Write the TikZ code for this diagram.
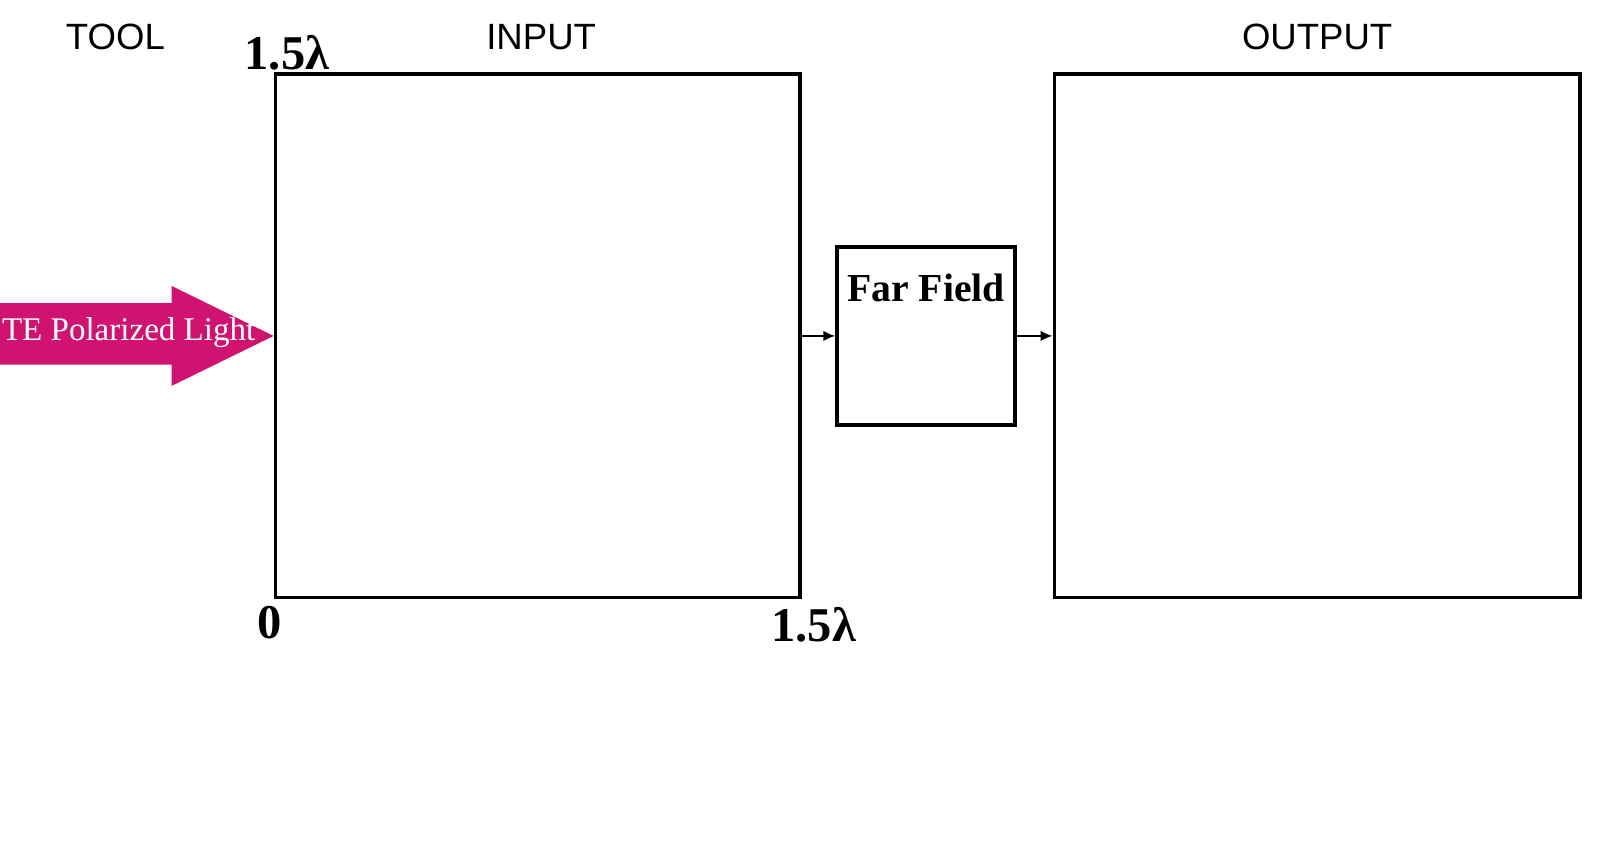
\documentclass[tikz,border=0pt]{standalone}
\usepackage{fontspec}
\setmainfont{Liberation Serif}
\setsansfont{Liberation Sans}
\usetikzlibrary{arrows.meta}
\definecolor{lightpink}{RGB}{208,19,112}

\begin{document}
\begin{tikzpicture}[x=0.01021cm,y=-0.01021cm,
   box/.style={draw,line width=0.038cm,inner sep=0pt,minimum width=5.24cm,minimum height=5.23cm},
   title/.style={font=\sffamily\fontsize{10.4}{12}\selectfont},
   dim/.style={font=\bfseries\fontsize{13.8}{15}\selectfont,inner sep=0pt},
   link/.style={line width=0.022cm,-{Latex[length=1.2mm,width=1.05mm]}}]
   \useasboundingbox (0,0) rectangle (1568,834.5);
   \node[box] (input) at (526.5,329) {};
   \node[box,minimum width=5.25cm] (output) at (1290,329) {};
   \node[box,minimum width=1.777cm,minimum height=1.777cm] (farfield) at (907,329) {};
   \node[anchor=north,inner sep=0pt,font=\bfseries\fontsize{11.3}{13}\selectfont] (fflabel) at (907,268) {Far Field};
   \node[title] (tool) at (113,36) {TOOL};
   \node[title] (intitle) at (530,36) {INPUT};
   \node[title] (outtitle) at (1290,36) {OUTPUT};
   \node[dim] (ytop) at (281,52) {1.5λ};
   \node[dim] (origin) at (264,610) {0};
   \node[dim] (xright) at (797,612) {1.5λ};
   % incoming light
   \fill[lightpink] (0,297) -- (168,297) -- (168,280) -- (input.west) -- (168,378) -- (168,357) -- (0,357) -- cycle;
   \node[white,inner sep=0pt,font=\fontsize{9.4}{11}\selectfont] (light) at (126,326) {TE Polarized Light};
   \draw[link] (input.east) -- (farfield.west);
   \draw[link] (farfield.east) -- (output.west);
\end{tikzpicture}
\end{document}
